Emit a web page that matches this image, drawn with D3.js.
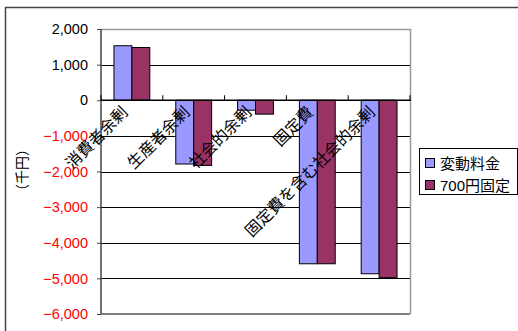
<!DOCTYPE html>
<html>
<head>
<meta charset="utf-8">
<script src="https://cdn.jsdelivr.net/npm/d3@7"></script>
<style>
  body { margin: 0; background: #fff; }
  svg text { font-family: "Liberation Sans", "Noto Sans CJK JP", sans-serif; }
</style>
</head>
<body>
<div id="chart"></div>
<script>
const categories = ["消費者余剰", "生産者余剰", "社会的余剰", "固定費", "固定費を含む社会的余剰"];
const seriesNames = ["変動料金", "700円固定"];
const hendou = [1530, -1790, -280, -4590, -4870];
const kotei700 = [1480, -1830, -390, -4590, -4980];
const yTicks = [2000, 1000, 0, -1000, -2000, -3000, -4000, -5000, -6000];
const colors = ["#9999ff", "#993366"];

const W = 518, H = 331;
const plot = { left: 101, right: 410, top: 29, bottom: 314 };

const svg = d3.select('#chart').append('svg')
    .attr('width', W)
    .attr('height', H);

// outer frame
svg.append('path')
    .attr('d', `M5.5,${H} V7.5 H${W}`)
    .attr('fill', 'none')
    .attr('stroke', '#444')
    .attr('stroke-width', 1.5);

const x = d3.scaleBand().domain(categories).range([plot.left, plot.right]);
const y = d3.scaleLinear().domain([-6000, 2000]).range([plot.bottom, plot.top]);

// gridlines
svg.append('g').selectAll('line').data(yTicks.filter(d => d !== 2000 && d !== -6000))
    .enter().append('line')
    .attr('x1', plot.left).attr('x2', plot.right)
    .attr('y1', d => Math.round(y(d)) + 0.5).attr('y2', d => Math.round(y(d)) + 0.5)
    .attr('stroke', '#000');

// plot border (top/right grey)
svg.append('path')
    .attr('d', `M${plot.left},${plot.top + 0.5} H${plot.right + 0.5} V${plot.bottom}`)
    .attr('fill', 'none')
    .attr('stroke', '#999')
    .attr('stroke-width', 1.5);

// y axis
const yAxis = svg.append('g')
    .attr('transform', `translate(${plot.left},0)`)
    .call(d3.axisLeft(y).tickValues(yTicks).tickSize(4).tickSizeOuter(0));
yAxis.select('.domain').attr('stroke', '#444').attr('stroke-width', 1.5)
    .attr('d', `M0,${plot.top} V${plot.bottom}`);
yAxis.selectAll('.tick line').attr('stroke', '#444');
yAxis.selectAll('.tick text')
    .attr('font-size', 14.5)
    .attr('x', -13)
    .attr('fill', d => d < 0 ? '#ff0000' : '#000')
    .text(d => d3.format(',')(d).replace('-', '−'));

// bottom line
svg.append('line')
    .attr('x1', plot.left).attr('x2', plot.right)
    .attr('y1', plot.bottom).attr('y2', plot.bottom)
    .attr('stroke', '#555').attr('stroke-width', 1.5);

// bars
const barW = x.bandwidth() * 0.29;
const rows = categories.map((c, i) => ({ cat: c, vals: [hendou[i], kotei700[i]] }));
const groups = svg.append('g').selectAll('g').data(rows).enter().append('g');
groups.selectAll('rect').data(d => d.vals.map((v, j) => ({ cat: d.cat, v: v, j: j })))
    .enter().append('rect')
    .attr('x', d => x(d.cat) + x.bandwidth() / 2 - barW + d.j * barW)
    .attr('y', d => y(Math.max(0, d.v)))
    .attr('width', barW)
    .attr('height', d => Math.abs(y(d.v) - y(0)))
    .attr('fill', d => colors[d.j])
    .attr('stroke', '#000')
    .attr('stroke-width', 1);

// x axis at zero
const y0 = y(0);
svg.append('line')
    .attr('x1', plot.left).attr('x2', plot.right + 1)
    .attr('y1', y0).attr('y2', y0)
    .attr('stroke', '#000').attr('stroke-width', 1.5);
svg.append('g').selectAll('line').data(d3.range(categories.length + 1))
    .enter().append('line')
    .attr('x1', i => plot.left + i * x.step()).attr('x2', i => plot.left + i * x.step())
    .attr('y1', y0 - 5).attr('y2', y0)
    .attr('stroke', '#000');

// category labels, rotated
svg.append('g').selectAll('text').data(categories)
    .enter().append('text')
    .attr('transform', d => `translate(${x(d) + x.bandwidth() / 2 - 3},${y0 + 13}) rotate(-45)`)
    .attr('text-anchor', 'end')
    .attr('font-size', 16)
    .attr('fill', '#000')
    .text(d => d);

// y title
svg.append('text')
    .attr('transform', 'translate(27,170) rotate(-90)')
    .attr('text-anchor', 'middle')
    .attr('font-size', 14)
    .text('（千円）');

// legend
const lg = svg.append('g').attr('transform', 'translate(419,148)');
lg.append('rect')
    .attr('x', 0.5).attr('y', 0.5)
    .attr('width', 98).attr('height', 46)
    .attr('fill', '#fff').attr('stroke', '#000');
seriesNames.forEach((n, i) => {
    lg.append('rect')
        .attr('x', 6.5).attr('y', 10.5 + i * 22)
        .attr('width', 9).attr('height', 9)
        .attr('fill', colors[i]).attr('stroke', '#000');
    lg.append('text')
        .attr('x', 21).attr('y', 20.5 + i * 22)
        .attr('font-size', 15)
        .text(n);
});
</script>
</body>
</html>
